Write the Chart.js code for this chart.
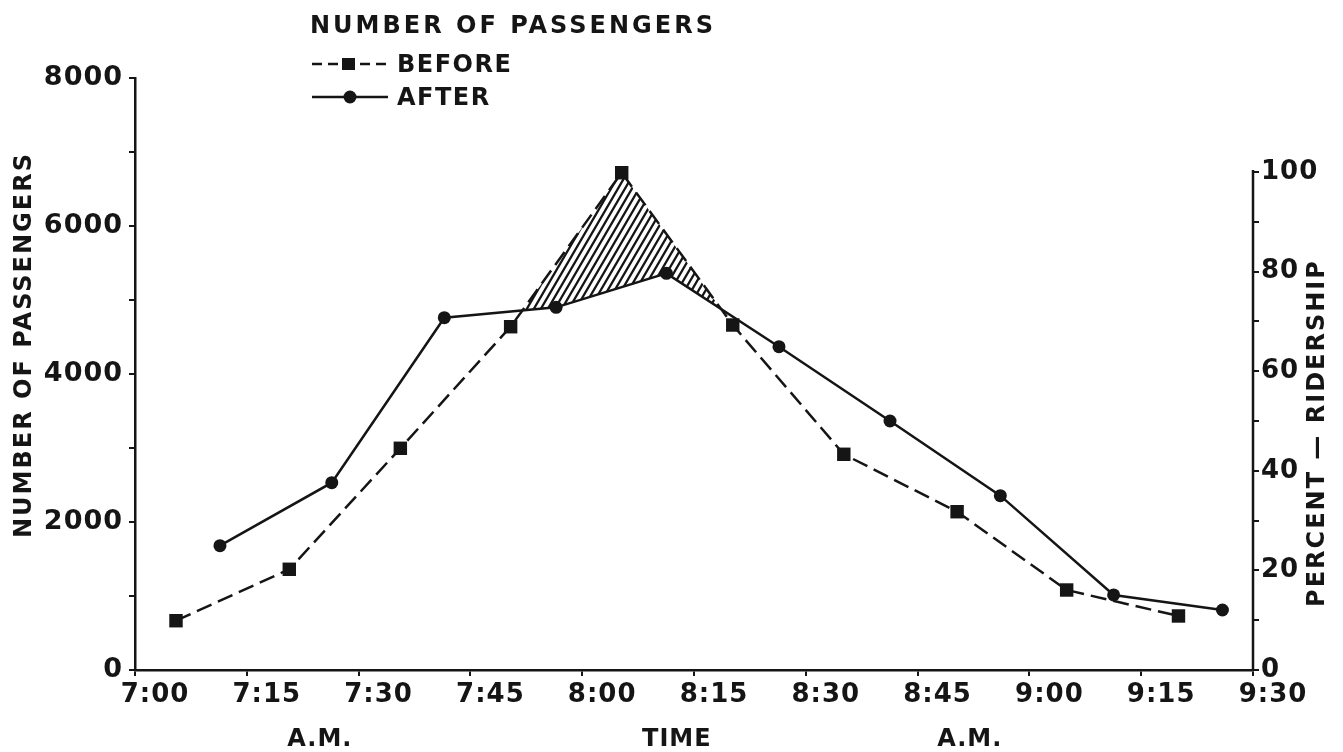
<!DOCTYPE html>
<html lang="en">
<head>
    <meta charset="UTF-8">
    <title>Number of Passengers</title>
    <script src="https://cdn.jsdelivr.net/npm/chart.js"></script>
    <style>
        body {
            margin: 0;
            background: #fff;
            font-family: 'DejaVu Sans', sans-serif;
        }
        #wrap {
            position: relative;
            width: 1343px;
            height: 752px;
        }
        #legend {
            position: absolute;
            left: 310px;
            top: 9px;
            color: #151515;
            font-size: 24px;
            font-weight: bold;
            letter-spacing: 1.5px;
            line-height: 32px;
        }
        #legend .title {
            letter-spacing: 3px;
            margin-bottom: 6px;
        }
        #legend .row {
            display: flex;
            align-items: center;
            height: 33px;
        }
        #legend svg {
            margin-right: 7px;
        }
    </style>
</head>
<body>
<div id="wrap">
    <canvas id="chart" width="1343" height="752"></canvas>
    <div id="legend">
        <div class="title">NUMBER OF PASSENGERS</div>
        <div class="row">
            <svg width="80" height="20"><line x1="2" y1="10" x2="78" y2="10" stroke="#151515" stroke-width="2.5" stroke-dasharray="10 6"/><rect x="32" y="4" width="13" height="12" fill="#151515"/></svg>
            <span>BEFORE</span>
        </div>
        <div class="row">
            <svg width="80" height="20"><line x1="2" y1="10" x2="78" y2="10" stroke="#151515" stroke-width="2.5"/><circle cx="40" cy="10" r="6.5" fill="#151515"/></svg>
            <span>AFTER</span>
        </div>
    </div>
</div>
<script>
    // minutes after 7:00 A.M.
    const beforeTimes = [5.5, 20.7, 35.6, 50.4, 65.3, 80.2, 95.1, 110.3, 125.0, 140.0];
    const beforeValues = [666, 1361, 2996, 4639, 6720, 4662, 2915, 2139, 1081, 730];
    const afterTimes = [11.4, 26.4, 41.5, 56.5, 71.3, 86.4, 101.3, 116.1, 131.3, 145.9];
    const afterValues = [1680, 2531, 4761, 4901, 5360, 4369, 3365, 2356, 1014, 811];

    // percent axis: 100% = peak "before" load
    const percentMax = 118.9;

    const ink = '#151515';
    const font = "'DejaVu Sans', sans-serif";

    // diagonal hatch for the peak that was shaved off
    function hatch() {
        const c = document.createElement('canvas');
        c.width = 7;
        c.height = 12;
        const g = c.getContext('2d');
        g.strokeStyle = ink;
        g.lineWidth = 2.3;
        g.beginPath();
        g.moveTo(0, 12); g.lineTo(7, 0);
        g.moveTo(-1, 1.7); g.lineTo(1, -1.7);
        g.moveTo(6, 13.7); g.lineTo(8, 10.3);
        g.stroke();
        return g.createPattern(c, 'repeat');
    }

    function clock(v) {
        const h = 7 + Math.floor(v / 60);
        const m = v % 60;
        return h + ':' + (m < 10 ? '0' + m : m);
    }

    const extras = {
        id: 'extras',
        beforeDraw(chart) {
            chart.ctx.letterSpacing = '1px';
        },
        afterDraw(chart) {
            const ctx = chart.ctx;
            const x = chart.scales.x;
            const y1 = chart.scales.y1;
            ctx.save();
            // right axis line only runs 0..100
            ctx.strokeStyle = ink;
            ctx.lineWidth = 2.5;
            ctx.beginPath();
            ctx.moveTo(y1.left, y1.getPixelForValue(0) + 1);
            ctx.lineTo(y1.left, y1.getPixelForValue(100) - 2);
            ctx.stroke();

            ctx.fillStyle = ink;
            ctx.letterSpacing = '1px';
            ctx.font = 'bold 24px ' + font;
            ctx.textAlign = 'center';
            ctx.textBaseline = 'middle';
            ctx.fillText('A.M.', x.getPixelForValue(24.8), 740);
            ctx.fillText('TIME', x.getPixelForValue(72.7), 740);
            ctx.fillText('A.M.', x.getPixelForValue(112), 740);

            ctx.letterSpacing = '2px';
            ctx.font = 'bold 24px ' + font;
            // left title
            ctx.save();
            ctx.translate(25, 345);
            ctx.rotate(-Math.PI / 2);
            ctx.fillText('NUMBER OF PASSENGERS', 0, 0);
            ctx.restore();
            // right title reads bottom to top
            const cy = (y1.getPixelForValue(0) + y1.getPixelForValue(100)) / 2 + 12;
            ctx.translate(1318, cy);
            ctx.rotate(-Math.PI / 2);
            ctx.fillText('PERCENT \u2014 RIDERSHIP', 0, 0);
            ctx.restore();
        }
    };

    const tickFont = {family: font, size: 26, weight: 'bold'};

    const ctx = document.getElementById('chart').getContext('2d');
    new Chart(ctx, {
        type: 'line',
        data: {
            datasets: [{
                label: 'BEFORE',
                data: beforeTimes.map((t, i) => ({x: t, y: beforeValues[i]})),
                borderColor: ink,
                backgroundColor: ink,
                borderWidth: 2.5,
                borderDash: [16, 7],
                pointStyle: 'rect',
                pointRadius: 9.5,
                pointBackgroundColor: ink,
                pointBorderWidth: 0,
                tension: 0,
                fill: {target: 1, above: hatch(), below: 'rgba(0,0,0,0)'}
            }, {
                label: 'AFTER',
                data: afterTimes.map((t, i) => ({x: t, y: afterValues[i]})),
                borderColor: ink,
                backgroundColor: ink,
                borderWidth: 2.5,
                pointStyle: 'circle',
                pointRadius: 6.5,
                pointBackgroundColor: ink,
                pointBorderWidth: 0,
                tension: 0,
                fill: false
            }]
        },
        options: {
            responsive: false,
            animation: false,
            layout: {padding: {top: 78}},
            plugins: {
                legend: {display: false},
                tooltip: {enabled: false}
            },
            scales: {
                x: {
                    type: 'linear',
                    min: 0,
                    max: 150,
                    afterFit(s) { s.height = 82; },
                    ticks: {
                        stepSize: 15,
                        color: ink,
                        font: tickFont,
                        padding: 4,
                        labelOffset: 20,
                        maxRotation: 0,
                        callback: v => clock(v)
                    },
                    grid: {drawOnChartArea: false, color: ink, lineWidth: 2, tickLength: 6},
                    border: {color: ink, width: 2.5}
                },
                y: {
                    position: 'left',
                    min: 0,
                    max: 8000,
                    afterFit(s) { s.width = 135; },
                    ticks: {
                        stepSize: 1000,
                        color: ink,
                        font: {family: font, size: 27, weight: 'bold'},
                        padding: 6,
                        callback: v => (v % 2000 === 0 ? v : '')
                    },
                    grid: {drawOnChartArea: false, color: ink, lineWidth: 2, tickLength: 6},
                    border: {color: ink, width: 2.5}
                },
                y1: {
                    position: 'right',
                    min: 0,
                    max: percentMax,
                    afterFit(s) { s.width = 90; },
                    afterBuildTicks(s) { s.ticks = s.ticks.filter(t => t.value <= 100); },
                    ticks: {
                        stepSize: 10,
                        color: ink,
                        font: tickFont,
                        padding: 2,
                        callback: v => (v % 20 === 0 && v <= 100 ? v : '')
                    },
                    grid: {drawOnChartArea: false, color: ink, lineWidth: 2, tickLength: 6},
                    border: {display: false}
                }
            }
        },
        plugins: [extras]
    });
</script>
</body>
</html>
